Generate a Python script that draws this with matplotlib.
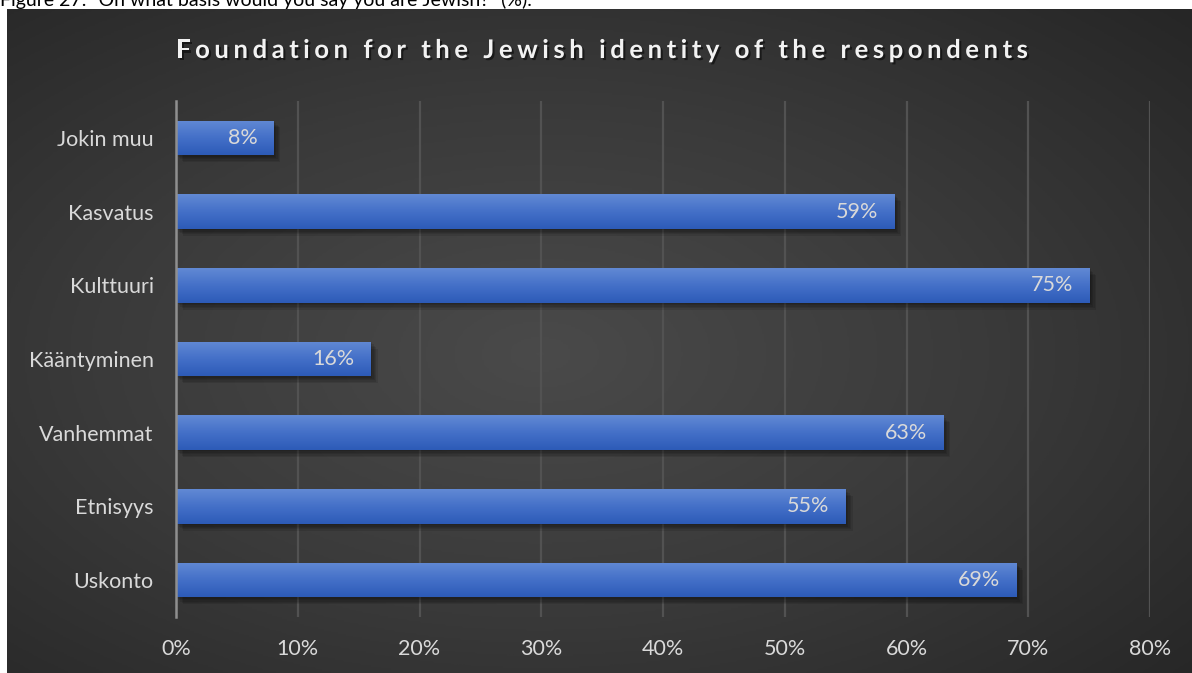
import numpy as np
import matplotlib
matplotlib.use("Agg")
import matplotlib.pyplot as plt
import matplotlib.patheffects as pe
from matplotlib.colors import LinearSegmentedColormap
from matplotlib.font_manager import FontProperties
from matplotlib.ticker import PercentFormatter

# vastaukset, alhaalta ylös
kategoriat = ["Uskonto", "Etnisyys", "Vanhemmat", "Kääntyminen", "Kulttuuri", "Kasvatus", "Jokin muu"]
osuudet = [69, 55, 63, 16, 75, 59, 8]
x_ticks = [0, 10, 20, 30, 40, 50, 60, 70, 80]

otsikko = "Foundation for the Jewish identity of the respondents"
kuvateksti = "Figure 27: \u201cOn what basis would you say you are Jewish?\u201d (%)."

W, H = 1192, 673
FONTTI = "Lato"
TEKSTI = "#d9d9d9"
KOKO = 15.5

fig = plt.figure(figsize=(W / 100, H / 100), dpi=100)
fig.patch.set_facecolor("white")

# kuvateksti yläreunassa
fig.text(0.0, (H - 6) / H, kuvateksti, fontsize=14, family=FONTTI, color="black",
         ha="left", va="baseline", zorder=-5)

# tumma tausta, säteittäinen liukuväri
tausta = fig.add_axes([7 / W, 0, 1 - 7 / W, (H - 9) / H])
tausta.set_axis_off()
yy, xx = np.mgrid[0:1:400j, 0:1:700j]
r = np.sqrt(((xx - 0.45) / 0.75) ** 2 + ((yy - 0.48) / 0.75) ** 2)
r = np.clip(r / r.max(), 0, 1)
tausta_cmap = LinearSegmentedColormap.from_list("tausta", ["#4a4a4a", "#3a3a3a", "#262626"])
tausta.imshow(r, cmap=tausta_cmap, aspect="auto", extent=(0, 1, 0, 1), origin="lower",
              interpolation="bilinear")
tausta.set_xlim(0, 1)
tausta.set_ylim(0, 1)

# varsinainen kaavio
ax = fig.add_axes([176 / W, (H - 617) / H, (1150 - 176) / W, (617 - 101) / H])
ax.patch.set_alpha(0)

# pehmeä varjo useasta läpikuultavasta kerroksesta
varjo = [pe.SimplePatchShadow(offset=(d, -d), shadow_rgbFace="black", alpha=0.10)
         for d in (1, 2, 3, 4, 5)]

korkeus = 0.47
y = np.arange(len(kategoriat))
palkit = ax.barh(y, osuudet, height=korkeus, color="#3f6cc4", zorder=3,
                 path_effects=varjo + [pe.Normal()])

palkki_cmap = LinearSegmentedColormap.from_list("palkki", ["#2d5bb7", "#4470c8", "#6189d4"])
liuku = np.linspace(0, 1, 64).reshape(-1, 1)
for yi, v, p in zip(y, osuudet, palkit):
    im = ax.imshow(liuku, cmap=palkki_cmap, aspect="auto", origin="lower",
                   extent=(0, v, yi - korkeus / 2, yi + korkeus / 2), zorder=4,
                   interpolation="bilinear")
    im.set_clip_path(p)
    ax.annotate(f"{v}%", xy=(v, yi), xytext=(-11.5, 0), textcoords="offset points",
                ha="right", va="center", fontsize=KOKO, family=FONTTI, color=TEKSTI, zorder=5)

ax.set_xlim(0, 80)
ax.set_ylim(-0.5, len(kategoriat) - 0.5)
ax.set_xticks(x_ticks)
ax.xaxis.set_major_formatter(PercentFormatter(decimals=0))
ax.set_yticks(y)
ax.set_yticklabels(kategoriat)
ax.grid(axis="x", color="#525252", linewidth=1.6, zorder=0)
ax.set_axisbelow(True)
for s in ["top", "right", "bottom"]:
    ax.spines[s].set_visible(False)
ax.spines["left"].set_color("#8f8f8f")
ax.spines["left"].set_linewidth(1.8)
ax.spines["left"].set_zorder(6)
ax.tick_params(axis="both", length=0, colors=TEKSTI, labelsize=KOKO)
ax.tick_params(axis="x", pad=16)
ax.tick_params(axis="y", pad=16)
for t in ax.get_xticklabels() + ax.get_yticklabels():
    t.set_family(FONTTI)

# harvennettu lihavoitu otsikko merkki kerrallaan
rend = fig.canvas.get_renderer()
prop = FontProperties(family=FONTTI, weight="bold", size=18.5)
leveydet = [rend.get_text_width_height_descent(c, prop, ismath=False)[0] for c in otsikko]
tavoite = 1028 - 176
vali = (tavoite - sum(leveydet)) / (len(otsikko) - 1)
x = 176.0
for c, w in zip(otsikko, leveydet):
    if c != " ":
        fig.text(x / W, (H - 50) / H, c, fontproperties=prop, color="#f2f2f2",
                 ha="left", va="center",
                 path_effects=[pe.withSimplePatchShadow(offset=(1.5, -1.5), shadow_rgbFace="black", alpha=0.5)])
    x += w + vali

fig.savefig("out.png", dpi=100, facecolor=fig.get_facecolor())
